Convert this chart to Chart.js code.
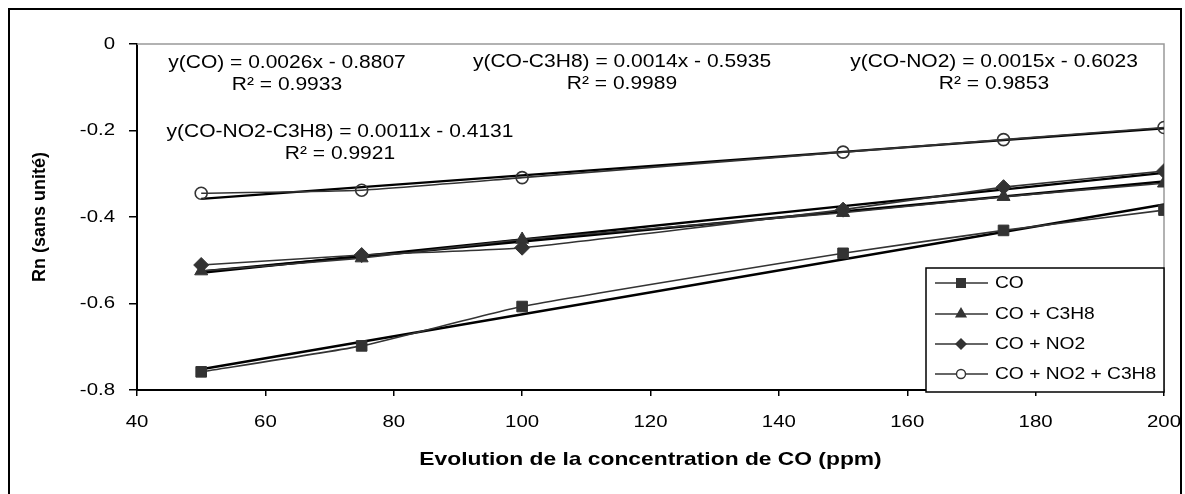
<!DOCTYPE html>
<html><head><meta charset="utf-8">
<script src="https://cdn.jsdelivr.net/npm/chart.js@4/dist/chart.umd.min.js"></script>
<style>html,body{margin:0;padding:0;background:#fff}canvas{display:block}</style>
</head><body>
<canvas id="c" width="1185" height="494"></canvas>
<script>
// ---- data ----
const xValues = [50, 75, 100, 150, 175, 200];
const coValues = [-0.758, -0.698, -0.607, -0.484, -0.431, -0.384];
const coC3H8Values = [-0.525, -0.495, -0.452, -0.390, -0.353, -0.322];
const coNO2Values = [-0.511, -0.488, -0.471, -0.383, -0.331, -0.294];
const coNO2C3H8Values = [-0.345, -0.338, -0.309, -0.250, -0.221, -0.193];

const trendX = [50, 200];
const coTrend = [-0.752, -0.371];
const coC3H8Trend = [-0.526, -0.318];
const coNO2Trend = [-0.529, -0.298];
const coNO2C3H8Trend = [-0.358, -0.195];

const xTicks = [40, 60, 80, 100, 120, 140, 160, 180, 200];
const yTicks = [-0.8, -0.6, -0.4, -0.2, 0];
const yTickLabels = ['-0.8', '-0.6', '-0.4', '-0.2', '0'];

const seriesLabels = ['CO', 'CO + C3H8', 'CO + NO2', 'CO + NO2 + C3H8'];
const eqLabels = ['y(CO) = 0.0026x - 0.8807', 'y(CO-C3H8) = 0.0014x - 0.5935', 'y(CO-NO2) = 0.0015x - 0.6023', 'y(CO-NO2-C3H8) = 0.0011x - 0.4131'];
const r2Labels = ['R\u00B2 = 0.9933', 'R\u00B2 = 0.9989', 'R\u00B2 = 0.9853', 'R\u00B2 = 0.9921'];
const xTitle = 'Evolution de la concentration de CO (ppm)';
const yTitle = 'Rn (sans unit\u00E9)';

// ---- styling ----
const FONT = '"Liberation Sans", Arial, sans-serif';
const STRETCH = 1.2;
const pointStyles = ['rect', 'triangle', 'rectRot', 'circle'];
const pointRadii = [7.5, 7.5, 7.5, 6];
const annPos = [{cx: 287, y: 68}, {cx: 622, y: 67}, {cx: 994, y: 67}, {cx: 340, y: 137}];

const canvas = document.getElementById('c');
const ctx0 = canvas.getContext('2d');
(function patch(ctx) {
  const of = ctx.fillText.bind(ctx), om = ctx.measureText.bind(ctx);
  const flat = () => { const t = ctx.getTransform(); return Math.abs(t.b) < 1e-6 && Math.abs(t.c) < 1e-6; };
  ctx.fillText = function (text, x, y, mw) {
    if (!flat()) return mw === undefined ? of(text, x, y) : of(text, x, y, mw);
    ctx.save(); ctx.translate(x, y); ctx.scale(STRETCH, 1); of(text, 0, 0); ctx.restore();
  };
  ctx.measureText = function (text) {
    const m = om(text);
    if (!flat()) return m;
    return {width: m.width * STRETCH, actualBoundingBoxAscent: m.actualBoundingBoxAscent, actualBoundingBoxDescent: m.actualBoundingBoxDescent,
      actualBoundingBoxLeft: m.actualBoundingBoxLeft * STRETCH, actualBoundingBoxRight: m.actualBoundingBoxRight * STRETCH};
  };
})(ctx0);

const seriesValues = [coValues, coC3H8Values, coNO2Values, coNO2C3H8Values];
const trendValues = [coTrend, coC3H8Trend, coNO2Trend, coNO2C3H8Trend];
const datasets = [];
seriesValues.forEach((vals, i) => {
  datasets.push({
    label: seriesLabels[i],
    data: xValues.map((x, j) => ({x, y: vals[j]})),
    borderColor: '#333', borderWidth: 1.6, tension: 0.15,
    pointStyle: pointStyles[i], pointRadius: pointRadii[i],
    pointBackgroundColor: i === 3 ? 'rgba(0,0,0,0)' : '#333',
    pointBorderColor: '#333', pointBorderWidth: i === 3 ? 1.6 : 1,
    order: 1
  });
});
trendValues.forEach((vals, i) => {
  datasets.push({
    label: 'trend ' + seriesLabels[i],
    data: trendX.map((x, j) => ({x, y: vals[j]})),
    borderColor: '#000', borderWidth: 2.4, pointRadius: 0, order: 2
  });
});

function drawMarker(ctx, style, x, y, r, fill) {
  ctx.beginPath();
  if (style === 'rect') { ctx.rect(x - r, y - r, 2 * r, 2 * r); }
  else if (style === 'triangle') { ctx.moveTo(x, y - r); ctx.lineTo(x + r * 0.866, y + r * 0.5); ctx.lineTo(x - r * 0.866, y + r * 0.5); ctx.closePath(); }
  else if (style === 'rectRot') { ctx.moveTo(x, y - r); ctx.lineTo(x + r, y); ctx.lineTo(x, y + r); ctx.lineTo(x - r, y); ctx.closePath(); }
  else { ctx.arc(x, y, r, 0, Math.PI * 2); }
  if (fill) { ctx.fillStyle = '#333'; ctx.fill(); }
  else { ctx.fillStyle = '#fff'; ctx.fill(); ctx.strokeStyle = '#333'; ctx.lineWidth = 1.4; ctx.stroke(); }
}

const decor = {
  id: 'decor',
  beforeDraw(chart) {
    const c = chart.ctx; c.save(); c.fillStyle = '#fff'; c.fillRect(0, 0, chart.width, chart.height); c.restore();
  },
  beforeDatasetsDraw(chart) {
    const c = chart.ctx, a = chart.chartArea;
    c.save(); c.strokeStyle = '#999'; c.lineWidth = 1.5;
    c.beginPath(); c.moveTo(a.left, a.top); c.lineTo(a.right, a.top); c.lineTo(a.right, a.bottom); c.stroke();
    c.restore();
  },
  afterDraw(chart) {
    const c = chart.ctx, a = chart.chartArea;
    c.save();
    // outer frame
    c.strokeStyle = '#000'; c.lineWidth = 2;
    c.strokeRect(9, 9, 1172, 500);
    // annotations
    c.fillStyle = '#000'; c.font = '17.5px ' + FONT; c.textAlign = 'center'; c.textBaseline = 'alphabetic';
    eqLabels.forEach((t, i) => {
      c.fillText(t, annPos[i].cx, annPos[i].y);
      c.fillText(r2Labels[i], annPos[i].cx, annPos[i].y + 22);
    });
    // legend
    const bw = 238, bh = 124, bx = a.right - bw, by = a.bottom + 2 - bh;
    c.fillStyle = '#fff'; c.fillRect(bx, by, bw, bh);
    c.strokeStyle = '#000'; c.lineWidth = 1.5; c.strokeRect(bx, by, bw, bh);
    const rows = [283, 314, 344, 374];
    const mr = [5, 7, 6, 4.5];
    seriesLabels.forEach((lab, i) => {
      const y = rows[i];
      c.strokeStyle = '#333'; c.lineWidth = 1.5;
      c.beginPath(); c.moveTo(bx + 9, y); c.lineTo(bx + 62, y); c.stroke();
      drawMarker(c, pointStyles[i], bx + 35, y, mr[i], i !== 3);
      c.fillStyle = '#000'; c.font = '16px ' + FONT; c.textAlign = 'left'; c.textBaseline = 'middle';
      c.fillText(lab, bx + 69, y + 1);
    });
    c.restore();
  }
};

new Chart(ctx0, {
  type: 'line',
  data: {datasets},
  options: {
    responsive: false, animation: false, devicePixelRatio: 1,
    layout: {padding: {left: 0, right: 21, top: 44, bottom: 0}},
    plugins: {legend: {display: false}, tooltip: {enabled: false}},
    scales: {
      x: {
        type: 'linear', min: 40, max: 200,
        afterBuildTicks: s => { s.ticks = xTicks.map(v => ({value: v})); },
        afterFit: s => { s.height = 104; s.paddingLeft = 0; s.paddingRight = 0; },
        ticks: {font: {family: FONT, size: 17}, color: '#000', padding: 16, maxRotation: 0, autoSkip: false, callback: v => String(v)},
        grid: {drawOnChartArea: false, tickLength: 6, color: '#000', lineWidth: 1.5},
        border: {color: '#000', width: 2},
        title: {display: true, text: xTitle, color: '#000', font: {family: FONT, size: 19, weight: 'bold'}, padding: {top: 0, bottom: 23}}
      },
      y: {
        type: 'linear', min: -0.8, max: 0,
        afterBuildTicks: s => { s.ticks = yTicks.map(v => ({value: v})); },
        afterFit: s => { s.width = 137; s.paddingTop = 0; s.paddingBottom = 0; },
        ticks: {font: {family: FONT, size: 17}, color: '#000', padding: 14, callback: v => { const k = yTicks.indexOf(v); return k >= 0 ? yTickLabels[k] : String(v); }},
        grid: {drawOnChartArea: false, tickLength: 8, color: '#000', lineWidth: 1.5},
        border: {color: '#000', width: 2},
        title: {display: true, text: yTitle, color: '#000', font: {family: FONT, size: 18, weight: 'bold'}, padding: {top: 29, bottom: 0}}
      }
    }
  },
  plugins: [decor]
});
</script>
</body></html>
